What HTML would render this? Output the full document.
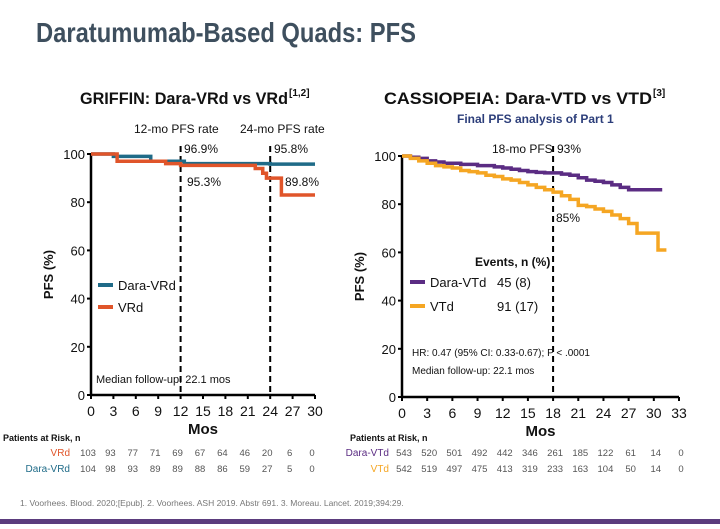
<!DOCTYPE html>
<html><head><meta charset="utf-8"><style>
body{margin:0;background:#fff;width:720px;height:524px;overflow:hidden;font-family:"Liberation Sans",sans-serif}
svg text{font-family:"Liberation Sans",sans-serif}
</style></head><body>
<svg id="s" width="720" height="524" viewBox="0 0 720 524">
<text x="36" y="42" font-size="28" font-weight="bold" fill="#3e4f5e" textLength="380" lengthAdjust="spacingAndGlyphs">Daratumumab-Based Quads: PFS</text>
<text x="80" y="104" font-size="17" font-weight="bold" fill="#111" textLength="208" lengthAdjust="spacingAndGlyphs">GRIFFIN: Dara-VRd vs VRd</text>
<text x="289" y="96" font-size="10" font-weight="bold" fill="#111">[1,2]</text>
<text x="384" y="104" font-size="17" font-weight="bold" fill="#111" textLength="268" lengthAdjust="spacingAndGlyphs">CASSIOPEIA: Dara-VTD vs VTD</text>
<text x="653" y="96" font-size="10" font-weight="bold" fill="#111">[3]</text>
<text x="457" y="123" font-size="12" font-weight="bold" fill="#2c3e7a">Final PFS analysis of Part 1</text>
<g id="L"></g><g id="R"></g>
<text x="20" y="506" font-size="8.5" fill="#777">1. Voorhees. Blood. 2020;[Epub]. 2. Voorhees. ASH 2019. Abstr 691. 3. Moreau. Lancet. 2019;394:29.</text>
<rect x="0" y="519" width="720" height="5" fill="#5b3c7d"/>
</svg>
<script>
// GRIFFIN data
const gTicks=[0,3,6,9,12,15,18,21,24,27,30];
const gYTicks=[0,20,40,60,80,100];
const gDaraT=[0,3,8,12.5,24,30];
const gDaraS=[100,99,97,96,95.8,95.8];
const gVrdT=[0,3.5,10,12,22,23,23.5,25.5,30];
const gVrdS=[100,97,96,95.3,94,92,90,83,83];
const gRiskVRd=[103,93,77,71,69,67,64,46,20,6,0];
const gRiskDara=[104,98,93,89,89,88,86,59,27,5,0];
// CASSIOPEIA data
const cTicks=[0,3,6,9,12,15,18,21,24,27,30,33];
const cYTicks=[0,20,40,60,80,100];
const cDaraT=[0,1,2,3,4,5,7,9,11,12,13,14,15,16,17,18,19,20,21,22,23,24,25,26,27,31];
const cDaraS=[100,99.5,99,98,97.5,97,96.5,96,95.5,95,94.5,94,93.5,93.2,93,93,92.5,92,91,90,89.5,89,88,87,86,86];
const cVtdT=[0,1,2,3,4,5,6,7,8,9,10,11,12,13,14,15,16,17,18,19,20,21,22,23,24,25,26,27,28,30,30.5,31.5];
const cVtdS=[100,99,98,97,96,95.5,95,94,93.5,93,92,91.5,90.5,90,89,88,87,86,85,83.5,82,79.5,79,78,77,75.5,74,72,68,68,61,61];
const cRiskDara=[543,520,501,492,442,346,261,185,122,61,14,0];
const cRiskVtd=[542,519,497,475,413,319,233,163,104,50,14,0];

const NS="http://www.w3.org/2000/svg";
function mk(p,tag,at,txt){const e=document.createElementNS(NS,tag);for(const k in at)e.setAttribute(k,at[k]);if(txt!==undefined)e.textContent=txt;p.appendChild(e);return e;}
function step(T,S,sx,sy){let d="M"+sx(T[0])+","+sy(S[0]);for(let i=1;i<T.length;i++){d+=" H"+sx(T[i])+" V"+sy(S[i]);}return d;}
function chart(g,o){
 const sx=t=>o.x0+(t/o.xmax)*(o.x1-o.x0), sy=v=>o.y0-(v/100)*(o.y0-o.y1);
 let e=mk(g,'line',{x1:o.x0,y1:sy(100),x2:o.x0,y2:sy(0),stroke:'#000','stroke-width':2.5});
 
 e=mk(g,'line',{x1:o.x0,y1:sy(0),x2:o.x1,y2:sy(0),stroke:'#000','stroke-width':2.5});
 
 o.yt.forEach(v=>{mk(g,'line',{x1:o.x0-4,x2:o.x0,y1:sy(v),y2:sy(v),stroke:'#000','stroke-width':2});
  e=mk(g,'text',{x:o.x0-6,y:sy(v)+5,'font-size':13,'text-anchor':'end',fill:'#111'},v);
  });
 o.xt.forEach(t=>{mk(g,'line',{x1:sx(t),x2:sx(t),y1:sy(0),y2:sy(0)+4,stroke:'#000','stroke-width':2});
  e=mk(g,'text',{x:sx(t),y:sy(0)+21,'font-size':14,'text-anchor':'middle',fill:'#111'},t);
  });
 e=mk(g,'text',{x:(o.x0+o.x1)/2,y:sy(0)+39,'font-size':15,'font-weight':'bold','text-anchor':'middle',fill:'#111'},'Mos');
 
 e=mk(g,'text',{x:0,y:0,'font-size':13,'font-weight':'bold','text-anchor':'middle',fill:'#111',transform:`translate(${o.x0-38},${sy(50)}) rotate(-90)`},'PFS (%)');
 
 o.dash.forEach(t=>{e=mk(g,'line',{x1:sx(t),x2:sx(t),y1:o.dashTop,y2:sy(0),stroke:'#000','stroke-width':2,'stroke-dasharray':'6,4'});
  });
 o.series.forEach(s=>{e=mk(g,'path',{d:step(s.T,s.S,sx,sy),fill:'none',stroke:s.c,'stroke-width':3.5});
  });
 e=mk(g,'text',{x:o.rtx,y:441,'font-size':9,'font-weight':'bold',fill:'#111'},'Patients at Risk, n');
 
 o.risk.forEach((r,ri)=>{const y=456+ri*16;
  e=mk(g,'text',{x:o.rlx,y:y,'font-size':10,'text-anchor':'end',fill:r.c},r.lab);
  
  r.v.forEach((v,i)=>{e=mk(g,'text',{x:sx(o.xt[i])+o.roff,y:y,'font-size':9.5,'text-anchor':'middle',fill:'#555'},v);
   });});
 return {sx,sy};
}
const L=document.getElementById('L'),R=document.getElementById('R');
chart(L,{x0:91,x1:315,xmax:30,y0:395,y1:154,xt:gTicks,yt:gYTicks,dash:[12,24],dashTop:146,rlx:70,roff:-3,rtx:3,
 series:[{T:gDaraT,S:gDaraS,c:'#1f6b88',name:'dara-vrd-curve'},{T:gVrdT,S:gVrdS,c:'#e0552a',name:'vrd-curve'}],
 risk:[{lab:'VRd',c:'#e0552a',v:gRiskVRd},{lab:'Dara-VRd',c:'#1f6b88',v:gRiskDara}]});
chart(R,{x0:402,x1:679,xmax:33,y0:397,y1:156,xt:cTicks,yt:cYTicks,dash:[18],dashTop:146,rlx:389,roff:2,rtx:350,
 series:[{T:cDaraT,S:cDaraS,c:'#5b2c83',name:'dara-vtd-curve'},{T:cVtdT,S:cVtdS,c:'#f5a623',name:'vtd-curve'}],
 risk:[{lab:'Dara-VTd',c:'#5b2c83',v:cRiskDara},{lab:'VTd',c:'#f5a623',v:cRiskVtd}]});
function t(p,x,y,s,txt,name,extra){const e=mk(p,'text',Object.assign({x:x,y:y,'font-size':s,fill:'#111'},extra||{}),txt);return e;}
t(L,134,133,12,'12-mo PFS rate','label-12mo');
t(L,240,133,12,'24-mo PFS rate','label-24mo');
t(L,184,153,12,'96.9%','value-12mo-dara');
t(L,187,186,12,'95.3%','value-12mo-vrd');
t(L,274,153,12,'95.8%','value-24mo-dara');
t(L,285,186,12,'89.8%','value-24mo-vrd');
let e=mk(L,'line',{x1:98,x2:113,y1:285,y2:285,stroke:'#1f6b88','stroke-width':4});
t(L,118,290,13,'Dara-VRd','legend-dara-vrd');
e=mk(L,'line',{x1:98,x2:113,y1:307,y2:307,stroke:'#e0552a','stroke-width':4});
t(L,118,312,13,'VRd','legend-vrd');
t(L,96,383,11,'Median follow-up: 22.1 mos','median-followup-griffin');
t(R,492,153,12,'18-mo PFS','label-18mo');
t(R,557,153,12,'93%','value-18mo-dara');
t(R,556,222,12,'85%','value-18mo-vtd');
t(R,475,266,12,'Events, n (%)','events-header',{'font-weight':'bold'});
e=mk(R,'line',{x1:410,x2:425,y1:282,y2:282,stroke:'#5b2c83','stroke-width':4});
t(R,430,287,13,'Dara-VTd','legend-dara-vtd');t(R,497,287,13,'45 (8)','events-dara-vtd');
e=mk(R,'line',{x1:410,x2:425,y1:306,y2:306,stroke:'#f5a623','stroke-width':4});
t(R,430,311,13,'VTd','legend-vtd');t(R,497,311,13,'91 (17)','events-vtd');
t(R,412,356,10,'HR: 0.47 (95% CI: 0.33-0.67); P < .0001','hazard-ratio');
t(R,412,374,10,'Median follow-up: 22.1 mos','median-followup-cassiopeia');
</script>
</body></html>
